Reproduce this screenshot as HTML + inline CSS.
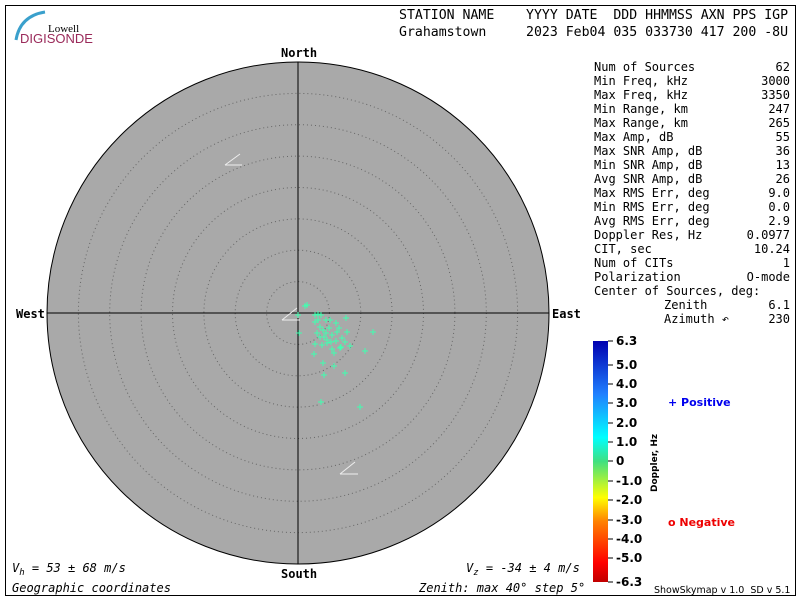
<!DOCTYPE html><html><head><style>body{margin:0;background:#fff}svg text{font-family:"DejaVu Sans Mono","Liberation Mono",monospace;font-size:12px;white-space:pre}</style></head><body>
<svg width="800" height="600" xmlns="http://www.w3.org/2000/svg" xml:space="preserve">
<defs><linearGradient id="g" x1="0" y1="1" x2="0" y2="0">
<stop offset="0" stop-color="#c00000"/><stop offset="0.08" stop-color="#ff0000"/><stop offset="0.25" stop-color="#ff8000"/><stop offset="0.35" stop-color="#ffff00"/><stop offset="0.5" stop-color="#40e080"/><stop offset="0.6" stop-color="#00ffff"/><stop offset="0.78" stop-color="#2080ff"/><stop offset="1" stop-color="#0000b0"/></linearGradient></defs>
<rect x="5.5" y="5.5" width="790" height="590" fill="#fff" stroke="#000"/>
<path d="M16 40 Q20 16 45 12" stroke="#3aa0cc" stroke-width="3" fill="none"/>
<text x="48" y="32" style="font-family:'Liberation Serif';font-size:11px">Lowell</text>
<text x="20" y="43" style="font-family:'Liberation Sans';font-size:13px" fill="#9a2a5a">DIGISONDE</text>
<text x="399" y="19" style="font-size:13.2px">STATION NAME    YYYY DATE  DDD HHMMSS AXN PPS IGP</text>
<text x="399" y="36" style="font-size:13.2px">Grahamstown     2023 Feb04 035 033730 417 200 -8U</text>
<circle cx="298" cy="313" r="251" fill="#a9a9a9" stroke="#000"/>
<g fill="none" stroke="#666" stroke-dasharray="1,3">
<circle cx="298" cy="313" r="31.4"/><circle cx="298" cy="313" r="62.8"/><circle cx="298" cy="313" r="94.1"/><circle cx="298" cy="313" r="125.5"/><circle cx="298" cy="313" r="156.9"/><circle cx="298" cy="313" r="188.3"/><circle cx="298" cy="313" r="219.6"/></g>
<line x1="298" y1="62" x2="298" y2="564" stroke="#000"/><line x1="47" y1="313" x2="549" y2="313" stroke="#000"/>
<g stroke="#eee"><path d="M225 165 L240 154 M225 165 L242 165"/><path d="M282 320 L297 308 M282 320 L300 320"/><path d="M340 474 L355 462 M340 474 L358 474"/></g>
<text x="281" y="57" font-weight="bold">North</text><text x="281" y="578" font-weight="bold">South</text>
<text x="16" y="318" font-weight="bold">West</text><text x="552" y="318" font-weight="bold">East</text>
<g stroke="#40ffb0" stroke-width="1">
<path id="p" d=""/>
</g>
<script>
var P=[[305,306],[307,305],[315,315],[318,314],[321,315],[315,322],[318,320],[320,327],[323,330],[326,333],[324,337],[329,328],[332,335],[337,332],[339,328],[346,318],[347,332],[336,341],[345,342],[341,347],[332,349],[327,343],[331,342],[315,344],[314,354],[334,353],[340,348],[350,346],[365,351],[373,332],[345,373],[324,375],[334,366],[320,337],[322,345],[327,340],[336,323],[360,407],[321,402],[299,333],[298,315],[317,333],[326,320],[330,320],[342,338],[323,363]];
var s='';P.forEach(function(p){s+='M'+(p[0]-3)+' '+p[1]+'h6M'+p[0]+' '+(p[1]-3)+'v6';});
document.getElementById('p').setAttribute('d',s);
</script>
<g font-size="12">
<text x="594" y="71">Num of Sources</text><text x="790" y="71" text-anchor="end">62</text>
<text x="594" y="85">Min Freq, kHz</text><text x="790" y="85" text-anchor="end">3000</text>
<text x="594" y="99">Max Freq, kHz</text><text x="790" y="99" text-anchor="end">3350</text>
<text x="594" y="113">Min Range, km</text><text x="790" y="113" text-anchor="end">247</text>
<text x="594" y="127">Max Range, km</text><text x="790" y="127" text-anchor="end">265</text>
<text x="594" y="141">Max Amp, dB</text><text x="790" y="141" text-anchor="end">55</text>
<text x="594" y="155">Max SNR Amp, dB</text><text x="790" y="155" text-anchor="end">36</text>
<text x="594" y="169">Min SNR Amp, dB</text><text x="790" y="169" text-anchor="end">13</text>
<text x="594" y="183">Avg SNR Amp, dB</text><text x="790" y="183" text-anchor="end">26</text>
<text x="594" y="197">Max RMS Err, deg</text><text x="790" y="197" text-anchor="end">9.0</text>
<text x="594" y="211">Min RMS Err, deg</text><text x="790" y="211" text-anchor="end">0.0</text>
<text x="594" y="225">Avg RMS Err, deg</text><text x="790" y="225" text-anchor="end">2.9</text>
<text x="594" y="239">Doppler Res, Hz</text><text x="790" y="239" text-anchor="end">0.0977</text>
<text x="594" y="253">CIT, sec</text><text x="790" y="253" text-anchor="end">10.24</text>
<text x="594" y="267">Num of CITs</text><text x="790" y="267" text-anchor="end">1</text>
<text x="594" y="281">Polarization</text><text x="790" y="281" text-anchor="end">O-mode</text>
<text x="594" y="295">Center of Sources, deg:</text>
<text x="664" y="309">Zenith</text><text x="790" y="309" text-anchor="end">6.1</text>
<text x="664" y="323">Azimuth ↶</text><text x="790" y="323" text-anchor="end">230</text>
</g>
<rect x="593" y="341" width="15" height="241" fill="url(#g)"/>
<g stroke="#000"><line x1="608" y1="341" x2="613" y2="341"/><line x1="608" y1="365" x2="613" y2="365"/><line x1="608" y1="384" x2="613" y2="384"/><line x1="608" y1="403" x2="613" y2="403"/><line x1="608" y1="423" x2="613" y2="423"/><line x1="608" y1="442" x2="613" y2="442"/><line x1="608" y1="461" x2="613" y2="461"/><line x1="608" y1="481" x2="613" y2="481"/><line x1="608" y1="500" x2="613" y2="500"/><line x1="608" y1="520" x2="613" y2="520"/><line x1="608" y1="539" x2="613" y2="539"/><line x1="608" y1="558" x2="613" y2="558"/><line x1="608" y1="582" x2="613" y2="582"/></g>
<g style="font-family:'DejaVu Sans';font-size:11px;font-weight:bold">
<text x="616" y="345" style="font-family:'DejaVu Sans'">6.3</text><text x="616" y="369" style="font-family:'DejaVu Sans'">5.0</text><text x="616" y="388" style="font-family:'DejaVu Sans'">4.0</text><text x="616" y="407" style="font-family:'DejaVu Sans'">3.0</text><text x="616" y="427" style="font-family:'DejaVu Sans'">2.0</text><text x="616" y="446" style="font-family:'DejaVu Sans'">1.0</text><text x="616" y="465" style="font-family:'DejaVu Sans'">0</text><text x="616" y="485" style="font-family:'DejaVu Sans'">-1.0</text><text x="616" y="504" style="font-family:'DejaVu Sans'">-2.0</text><text x="616" y="524" style="font-family:'DejaVu Sans'">-3.0</text><text x="616" y="543" style="font-family:'DejaVu Sans'">-4.0</text><text x="616" y="562" style="font-family:'DejaVu Sans'">-5.0</text><text x="616" y="586" style="font-family:'DejaVu Sans'">-6.3</text>
<text transform="translate(657,492) rotate(-90)" style="font-family:'DejaVu Sans';font-size:9px">Doppler, Hz</text>
<text x="668" y="406" fill="#0000ee" style="font-family:'DejaVu Sans';font-size:11px;font-weight:bold">+ Positive</text>
<text x="668" y="526" fill="#ee0000" style="font-family:'DejaVu Sans';font-size:11px;font-weight:bold">o Negative</text>
</g>
<text x="12" y="572" font-style="italic">V<tspan font-size="9" dy="3">h</tspan><tspan dy="-3"> = 53 ± 68 m/s</tspan></text>
<text x="466" y="572" font-style="italic">V<tspan font-size="9" dy="3">z</tspan><tspan dy="-3"> = -34 ± 4 m/s</tspan></text>
<text x="12" y="592" font-style="italic">Geographic coordinates</text>
<text x="419" y="592" font-style="italic">Zenith: max 40° step 5°</text>
<text x="654" y="593" style="font-family:'DejaVu Sans';font-size:9.5px">ShowSkymap v 1.0  SD v 5.1</text>
</svg></body></html>
